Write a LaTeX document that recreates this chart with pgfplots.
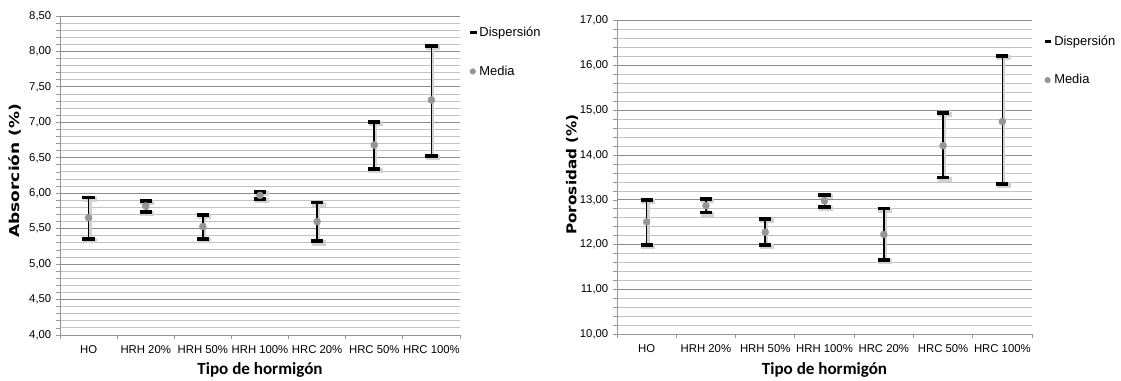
\documentclass[border=0pt]{standalone}
\usepackage{pgfplots}
\pgfplotsset{compat=1.18}
\usepackage{pgfplotstable}
\usepackage{fontspec}
\setmainfont{Liberation Sans}
\newfontfamily\ylabfontL[FakeStretch=1.25]{DejaVu Sans}
\newfontfamily\ylabfontR[FakeStretch=1.12]{DejaVu Sans}
\newfontfamily\xlabfont{Carlito}
\definecolor{majgrid}{RGB}{140,140,140}
\definecolor{mingrid}{RGB}{195,195,195}
\definecolor{axgray}{RGB}{150,150,150}
\definecolor{meangray}{RGB}{150,150,150}
\definecolor{shadow}{RGB}{210,210,210}

\pgfplotstableread{
x mean lo hi
0 5.655 5.36 5.94
1 5.82 5.74 5.895
2 5.53 5.36 5.69
3 5.97 5.92 6.02
4 5.60 5.32 5.87
5 6.68 6.34 7.00
6 7.315 6.525 8.08
}\absorcion

\pgfplotstableread{
x mean lo hi
0 12.51 11.99 13.00
1 12.87 12.72 13.02
2 12.28 12.00 12.57
3 12.98 12.84 13.11
4 12.23 11.66 12.81
5 14.21 13.50 14.95
6 14.75 13.35 16.21
}\porosidad

\pgfplotsset{
  exc/.style={
    scale only axis,
    axis x line*=bottom, axis y line*=left,
    axis line style={axgray, line width=0.6pt, -},
    xmin=-0.5, xmax=6.5,
    xtick={0,...,6},
    xticklabels={HO, HRH 20\%, HRH 50\%, HRH 100\%, HRC 20\%, HRC 50\%, HRC 100\%},
    major x tick style={draw=none},
    minor xtick={-0.5,0.5,1.5,2.5,3.5,4.5,5.5,6.5},
    minor x tick style={axgray, line width=0.6pt},
    tick align=outside,
    major tick length=3pt, minor tick length=3pt,
    ytick style={axgray, line width=0.6pt},
    minor y tick num=4,
    ymajorgrids, yminorgrids,
    major grid style={majgrid, line width=0.7pt},
    minor grid style={mingrid, line width=0.7pt},
    yticklabel style={font=\fontsize{8.5}{10}\selectfont},
    xticklabel style={font=\fontsize{8.5}{10}\selectfont, yshift=-1.5pt},
    /pgf/number format/.cd, fixed, fixed zerofill, precision=2, use comma, assume math mode=true,
    /pgfplots/.cd,
    xlabel={Tipo de hormigón},
    xlabel style={font=\xlabfont\bfseries\fontsize{12.8}{14}\selectfont, anchor=center},
    ylabel style={anchor=center, rotate=0},
    legend style={draw=none, fill=none, font=\fontsize{9.7}{11}\selectfont, row sep=16.5pt, inner sep=0pt,
      nodes={inner xsep=1pt}},
    legend cell align=left,
  },
  disp/.style={draw=none, mark=none,
    error bars/y dir=both, error bars/y explicit,
    error bars/error mark=|,
    error bars/error bar style={black, line width=1.2pt},
    error bars/error mark options={black, mark size=4.6pt, line width=2.9pt},
    legend image code/.code={\draw[black, line width=2.4pt] (0pt,0pt) -- (5pt,0pt);}},
  dispsh/.style={draw=none, mark=none, forget plot,
    error bars/y dir=both, error bars/y explicit,
    error bars/error mark=|,
    error bars/error bar style={shadow, line width=2pt, xshift=1.2pt, yshift=-1.2pt},
    error bars/error mark options={shadow, mark size=5.2pt, line width=3.8pt}},
  media/.style={only marks, mark=*, mark size=2.6pt, meangray, mark options={draw=meangray, fill=meangray},
    legend image code/.code={\fill[meangray] (2.2pt,0pt) circle (2.1pt);}},
}

\begin{document}
\begin{tikzpicture}
\path[use as bounding box] (0,0) rectangle (840.75pt,285.75pt);

\begin{axis}[exc,
  at={(45pt,34.5pt)}, anchor=south west,
  width=300pt, height=239.25pt,
  ymin=4, ymax=8.5, ytick={4,4.5,...,8.5},
  ylabel={Absorción (\%)},
  ylabel style={font=\ylabfontL\bfseries\fontsize{10.2}{12}\selectfont, at={(axis description cs:-0.1125,0.515)}},
  xlabel style={at={(axis description cs:0.5,-0.11)}},
  legend style={at={(axis description cs:1.02,0.975)}, anchor=north west},
]
\addplot[dispsh]
  table[x=x, y=mean, y error plus expr=\thisrow{hi}-\thisrow{mean}, y error minus expr=\thisrow{mean}-\thisrow{lo}] {\absorcion};
\addplot[disp]
  table[x=x, y=mean, y error plus expr=\thisrow{hi}-\thisrow{mean}, y error minus expr=\thisrow{mean}-\thisrow{lo}] {\absorcion};
\addlegendentry{Dispersión}
\addplot[media]
  table[x=x, y=mean] {\absorcion};
\addlegendentry{Media}
\end{axis}

\begin{axis}[exc,
  at={(462.75pt,35pt)}, anchor=south west,
  width=311.25pt, height=235.2pt,
  ymin=10, ymax=17, ytick={10,...,17},
  ylabel={Porosidad (\%)},
  ylabel style={font=\ylabfontR\bfseries\fontsize{10.2}{12}\selectfont, at={(axis description cs:-0.108,0.51)}},
  xlabel style={at={(axis description cs:0.5,-0.114)}},
  legend style={at={(axis description cs:1.026,0.962)}, anchor=north west},
]
\addplot[dispsh]
  table[x=x, y=mean, y error plus expr=\thisrow{hi}-\thisrow{mean}, y error minus expr=\thisrow{mean}-\thisrow{lo}] {\porosidad};
\addplot[disp]
  table[x=x, y=mean, y error plus expr=\thisrow{hi}-\thisrow{mean}, y error minus expr=\thisrow{mean}-\thisrow{lo}] {\porosidad};
\addlegendentry{Dispersión}
\addplot[media]
  table[x=x, y=mean] {\porosidad};
\addlegendentry{Media}
\end{axis}
\end{tikzpicture}
\end{document}
